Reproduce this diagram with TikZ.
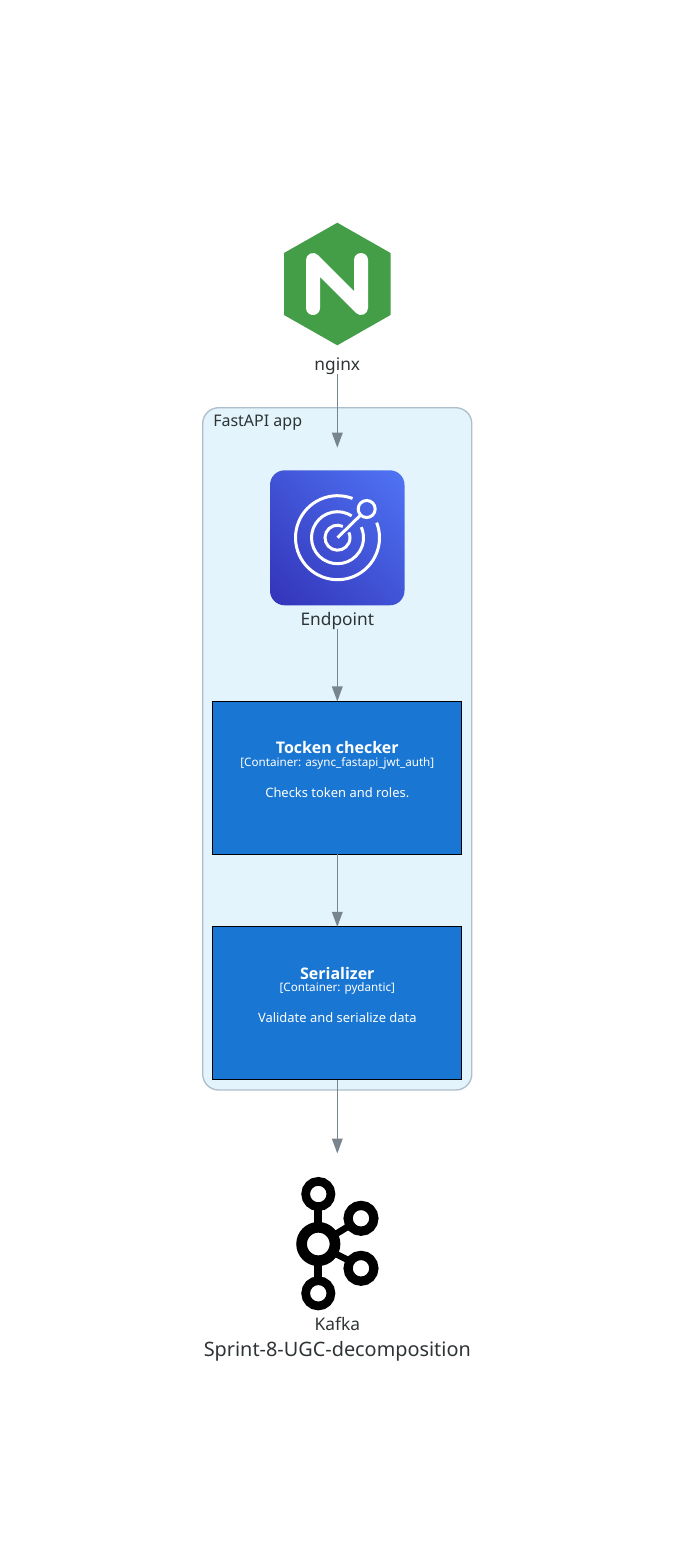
\documentclass[tikz,border=0pt]{standalone}
\usepackage{fontspec}
\setmainfont{Noto Sans}
\newfontfamily\ctrbold{Open Sans}
\usetikzlibrary{arrows.meta,positioning,shadings}
\definecolor{nginxgreen}{HTML}{449E48}
\definecolor{flowgray}{HTML}{78858F}
\definecolor{appfill}{HTML}{E3F4FC}
\definecolor{appedge}{HTML}{AFBECB}
\definecolor{ctrblue}{HTML}{1976D2}
\definecolor{labelink}{HTML}{2E3436}
\definecolor{epdark}{HTML}{3333B8}
\definecolor{eplight}{HTML}{4F74F5}

\begin{document}
\begin{tikzpicture}[x=0.75pt,y=-0.75pt,>=Stealth,
    lbl/.style={anchor=base,inner sep=0pt,text=labelink,font=\fontsize{13pt}{15pt}\selectfont},
    flow/.style={flowgray,line width=1pt,-{Triangle[length=11.25pt,width=8pt]}},
    ctrbox/.style={draw=black,fill=ctrblue,line width=0.9pt,outer sep=0pt,minimum width=186.8pt,minimum height=114.6pt,inner sep=0pt},
    ctrtitle/.style={anchor=base,inner sep=0pt,text=white,font=\ctrbold\bfseries\fontsize{12pt}{14pt}\selectfont},
    ctrsub/.style={anchor=base,inner sep=0pt,text=white,font=\fontsize{8.75pt}{11pt}\selectfont},
    ctrdesc/.style={anchor=base,inner sep=0pt,text=white,font=\fontsize{9.7pt}{12pt}\selectfont}]
  \useasboundingbox (0,0) rectangle (675,1560);
  % nginx icon
  \fill[nginxgreen] (337.3,222.7) -- (390.5,253) -- (390.5,315) -- (337.3,345.3) -- (284,315) -- (284,253) -- cycle;
  \draw[white,line width=10.5pt,line cap=round,line join=round] (313,308) -- (313,260) -- (361,308) -- (361,260);
  \node[lbl] (nginxL) at (337.3,370) {nginx};
  % app boundary
  \draw[appedge,fill=appfill,line width=1pt,rounded corners=12pt] (202.7,407.7) rectangle (471.8,1090);
  \node[lbl,anchor=base west,font=\fontsize{12pt}{14pt}\selectfont] (appL) at (213,426) {FastAPI app};
  \coordinate (appIn) at (337.3,447.7);
  % endpoint icon
  \shade[rounded corners=11pt,lower left=epdark,upper right=eplight,upper left=epdark!50!eplight,lower right=epdark!50!eplight]
     (270,470.3) rectangle (404.5,605.3);
  \coordinate (tgt) at (337.5,537.7);
  \foreach \r/\a/\b in {42/69/381,26/57/384,12.5/65/385}{
    \draw[white,line width=2.25pt] (tgt) ++(-\a:\r) arc[start angle=-\a,end angle=-\b,radius=\r];
  }
  \draw[white,line width=2.25pt] (366.7,509) circle (8.5);
  \draw[white,line width=2.25pt] (tgt) -- (360.5,515.2);
  \node[lbl] (endpointL) at (337.3,625) {Endpoint};
  % containers
  \node[ctrbox] (tocken) at (337.3,777.8) {};
  \node[ctrtitle] (tockenT) at (337.3,753.3) {Tocken checker};
  \node[ctrsub] (tockenS) at (337.3,766.4) {[Container: async\_fastapi\_jwt\_auth]};
  \node[ctrdesc] (tockenD) at (337.3,797.2) {Checks token and roles.};
  \node[ctrbox] (serial) at (337.3,1003.2) {};
  \node[ctrtitle] (serialT) at (337.3,979) {Serializer};
  \node[ctrsub] (serialS) at (337.3,991.9) {[Container: pydantic]};
  \node[ctrdesc] (serialD) at (337.3,1022.3) {Validate and serialize data};
  % kafka icon
  \foreach \cy in {1194,1293.3}{ \draw[black,line width=6.5pt] (318.3,\cy) circle (12.65); }
  \foreach \cy in {1218.3,1268.3}{ \draw[black,line width=6.9pt] (361,\cy) circle (12.9); }
  \draw[black,line width=8pt] (318.3,1244) circle (16.7);
  \draw[black,line width=6pt] (318.3,1210) -- (318.3,1225) (318.3,1263) -- (318.3,1277);
  \draw[black,line width=5pt] (335,1234.5) -- (349,1226) (335,1253.5) -- (349,1260.5);
  \node[lbl] (kafkaL) at (337.3,1330) {Kafka};
  \node[lbl,font=\fontsize{14.9pt}{18pt}\selectfont] (titleL) at (337.3,1356) {Sprint-8-UGC-decomposition};
  \coordinate (kafkaIn) at (337.3,1153.5);
  % connectors
  \draw[flow] (nginxL.south) -- (appIn);
  \draw[flow] (endpointL.south) -- (tocken.north);
  \draw[flow] (tocken.south) -- (serial.north);
  \draw[flow] (serial.south) -- (kafkaIn);
\end{tikzpicture}
\end{document}
